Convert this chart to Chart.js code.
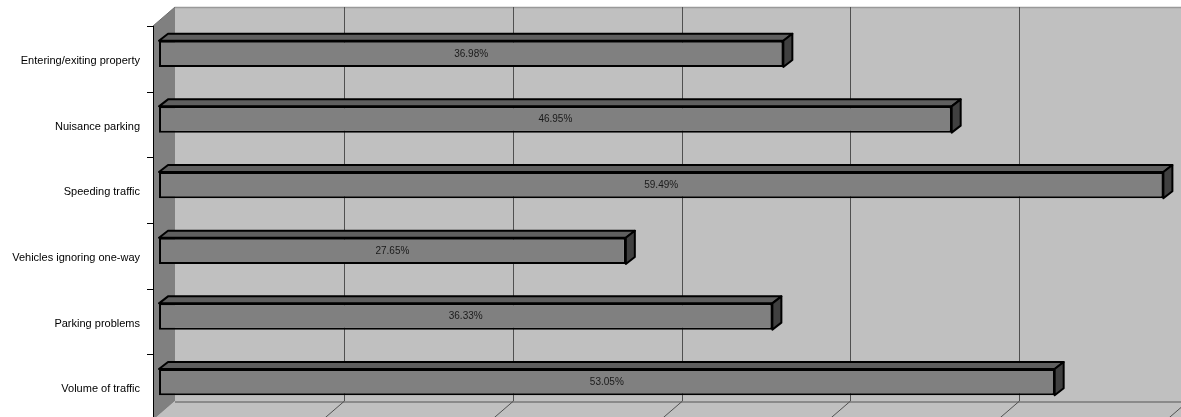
<!DOCTYPE html>
<html>
<head>
<meta charset="utf-8">
<script src="https://cdn.jsdelivr.net/npm/chart.js@4.4.1/dist/chart.umd.min.js"></script>
<style>
  html, body { margin: 0; padding: 0; background: #fff; }
  #wrap { width: 1181px; height: 417px; position: relative; }
</style>
</head>
<body>
<div id="wrap"><canvas id="chart"></canvas></div>
<script>
const categories = [
  'Entering/exiting property',
  'Nuisance parking',
  'Speeding traffic',
  'Vehicles ignoring one-way',
  'Parking problems',
  'Volume of traffic'
];
const percentages = [36.98, 46.95, 59.49, 27.65, 36.33, 53.05];
const gridValues = [10, 20, 30, 40, 50, 60];

// oblique offsets of the front plane, back wall and bar depth, relative to the bar plane
const FRONT = { dx: -6, dy: 5 };
const BACK = { dx: 16, dy: -14 };
const DEPTH = { dx: 9, dy: -7 };

const walls = {
  id: 'walls',
  beforeDatasetsDraw(chart) {
    const { ctx, chartArea, scales } = chart;
    const W = chart.width;
    const fl = chartArea.left + FRONT.dx, ft = chartArea.top + FRONT.dy, fb = chartArea.bottom + FRONT.dy;
    const bl = chartArea.left + BACK.dx, bt = chartArea.top + BACK.dy, bb = chartArea.bottom + BACK.dy;
    ctx.save();
    // back wall
    ctx.fillStyle = '#c0c0c0';
    ctx.fillRect(bl, bt, W - bl, bb - bt);
    // floor
    ctx.beginPath();
    ctx.moveTo(bl, bb); ctx.lineTo(W, bb); ctx.lineTo(W, fb); ctx.lineTo(fl, fb);
    ctx.closePath();
    ctx.fill();
    // left wall
    ctx.fillStyle = '#808080';
    ctx.beginPath();
    ctx.moveTo(fl, ft); ctx.lineTo(bl, bt); ctx.lineTo(bl, bb); ctx.lineTo(fl, fb);
    ctx.closePath();
    ctx.fill();
    // edges
    ctx.strokeStyle = '#999';
    ctx.lineWidth = 1.5;
    ctx.beginPath(); ctx.moveTo(bl, bt + 0.5); ctx.lineTo(W, bt + 0.5); ctx.stroke();
    ctx.strokeStyle = '#6e6e6e';
    ctx.lineWidth = 1;
    ctx.beginPath(); ctx.moveTo(fl, ft); ctx.lineTo(bl, bt); ctx.stroke();
    ctx.strokeStyle = '#8a8a8a';
    ctx.lineWidth = 2;
    ctx.beginPath(); ctx.moveTo(bl, bb + 1); ctx.lineTo(W, bb + 1); ctx.stroke();
    // gridlines on the back wall and across the floor
    ctx.strokeStyle = '#505050';
    ctx.lineWidth = 1;
    gridValues.forEach(v => {
      const x = Math.round(scales.x.getPixelForValue(v) + BACK.dx) + 0.5;
      ctx.beginPath();
      ctx.moveTo(x, bt); ctx.lineTo(x, bb);
      ctx.lineTo(x + FRONT.dx - BACK.dx, fb);
      ctx.stroke();
    });
    // category axis on the front plane
    ctx.strokeStyle = '#000';
    ctx.beginPath();
    ctx.moveTo(fl + 0.5, ft); ctx.lineTo(fl + 0.5, chart.height);
    ctx.stroke();
    const y = scales.y;
    for (let i = 0; i <= categories.length; i++) {
      const ty = Math.round(y.getPixelForValue(i - 0.5) + FRONT.dy) + 0.5;
      ctx.beginPath(); ctx.moveTo(fl - 6, ty); ctx.lineTo(fl, ty); ctx.stroke();
    }
    ctx.restore();
  }
};

const barFaces = {
  id: 'barFaces',
  afterDatasetsDraw(chart) {
    const { ctx } = chart;
    const meta = chart.getDatasetMeta(0);
    ctx.save();
    ctx.lineWidth = 2;
    ctx.strokeStyle = '#000';
    ctx.lineJoin = 'round';
    meta.data.forEach((bar, i) => {
      const { x, y, base, height } = bar.getProps(['x', 'y', 'base', 'height'], true);
      const top = y - height / 2, bottom = y + height / 2;
      // top face
      ctx.fillStyle = '#5f5f5f';
      ctx.beginPath();
      ctx.moveTo(base, top); ctx.lineTo(base + DEPTH.dx, top + DEPTH.dy);
      ctx.lineTo(x + DEPTH.dx, top + DEPTH.dy); ctx.lineTo(x, top);
      ctx.closePath(); ctx.fill(); ctx.stroke();
      // end face
      ctx.fillStyle = '#404040';
      ctx.beginPath();
      ctx.moveTo(x, top); ctx.lineTo(x + DEPTH.dx, top + DEPTH.dy);
      ctx.lineTo(x + DEPTH.dx, bottom + DEPTH.dy); ctx.lineTo(x, bottom);
      ctx.closePath(); ctx.fill(); ctx.stroke();
      // value label
      ctx.fillStyle = '#1a1a1a';
      ctx.font = '10px "Liberation Sans", Arial, sans-serif';
      ctx.textAlign = 'center';
      ctx.textBaseline = 'middle';
      ctx.fillText(percentages[i].toFixed(2) + '%', (base + x) / 2, y);
    });
    ctx.restore();
  }
};

new Chart(document.getElementById('chart'), {
  type: 'bar',
  data: {
    labels: categories,
    datasets: [{
      data: percentages,
      backgroundColor: '#808080',
      borderColor: '#000',
      borderWidth: 2,
      borderSkipped: false,
      categoryPercentage: 1,
      barPercentage: 0.4
    }]
  },
  options: {
    indexAxis: 'y',
    responsive: true,
    maintainAspectRatio: false,
    devicePixelRatio: 1,
    animation: false,
    layout: { padding: { top: 21, right: 9, bottom: 2, left: 0 } },
    plugins: { legend: { display: false }, tooltip: { enabled: false } },
    scales: {
      x: { display: false, min: 0, max: 60 },
      y: {
        grid: { display: false, drawTicks: false },
        border: { display: false },
        afterFit(scale) {
          scale.width = 159;
          scale.paddingTop = 0;
          scale.paddingBottom = 0;
        },
        ticks: {
          color: '#000',
          padding: 19,
          labelOffset: 7,
          font: { family: '"Liberation Sans", Arial, sans-serif', size: 11 }
        }
      }
    }
  },
  plugins: [walls, barFaces]
});
</script>
</body>
</html>
